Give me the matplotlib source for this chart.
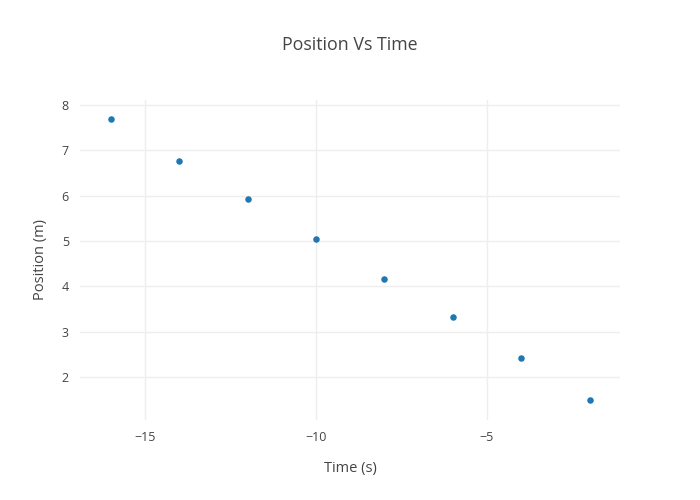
import matplotlib.pyplot as plt

plt.rcParams['font.family'] = ['Open Sans', 'DejaVu Sans']

# data
time_s = [-16, -14, -12, -10, -8, -6, -4, -2]
position_m = [7.69, 6.77, 5.93, 5.05, 4.16, 3.32, 2.42, 1.50]

xticks = [-15, -10, -5]
yticks = [2, 3, 4, 5, 6, 7, 8]

fig = plt.figure(figsize=(7, 5), dpi=100)
ax = fig.add_axes([80/700, 80/500, 540/700, 320/500])

ax.scatter(time_s, position_m, s=22, color='#1f77b4', zorder=3, linewidths=0)

ax.set_xlim(-16.9, -1.11)
ax.set_ylim(1.05, 8.11)
ax.set_xticks(xticks)
ax.set_yticks(yticks)
ax.grid(True, color='#eeeeee', linewidth=1)
ax.set_axisbelow(True)
for s in ax.spines.values():
    s.set_visible(False)
ax.tick_params(length=0, labelsize=9, colors='#444444', pad=8)

ax.set_xlabel('Time (s)', fontsize=10.5, color='#444444', labelpad=12)
ax.set_ylabel('Position (m)', fontsize=10.5, color='#444444', labelpad=10)
fig.text(350/700, 1 - 45/500, 'Position Vs Time', ha='center', va='center',
         fontsize=12.75, color='#444444')

fig.savefig('out.png', dpi=100)
